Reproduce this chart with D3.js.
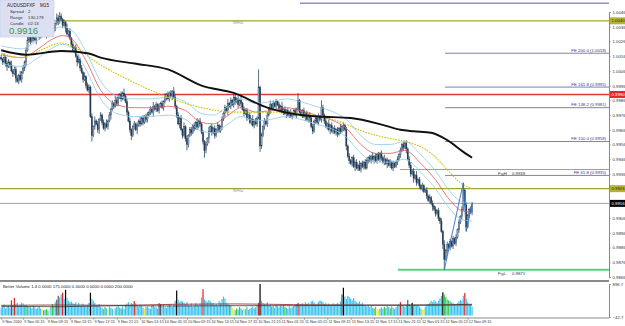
<!DOCTYPE html>
<html>
<head>
<meta charset="utf-8">
<script src="https://cdnjs.cloudflare.com/ajax/libs/d3/7.8.5/d3.min.js"></script>
<style>
body { margin: 0; background: #fff; overflow: hidden; }
svg text { font-family: "Liberation Sans", Arial, sans-serif; }
</style>
</head>
<body>
<script>
// AUDUSD M15, bar 0 = 9 Nov 2010 01:30, one bar every 15 minutes
var firstOpen = 1.0015;
var closes = [
  1.0014,1.0012,1.0015,1.0011,1.0009,1.0012,1.0010,1.0006,1.0004,1.0007,
  1.0001,0.9999,1.0003,1.0000,1.0005,1.0008,1.0012,1.0020,1.0027,1.0029,
  1.0026,1.0030,1.0028,1.0027,1.0030,1.0032,1.0029,1.0031,1.0034,1.0032,
  1.0030,1.0033,1.0031,1.0034,1.0036,1.0033,1.0035,1.0038,1.0042,1.0040,
  1.0043,1.0041,1.0037,1.0039,1.0035,1.0031,1.0033,1.0028,1.0024,1.0020,
  1.0022,1.0016,1.0012,1.0014,1.0008,1.0005,1.0000,1.0002,0.9996,0.9993,
  0.9995,0.9975,0.9962,0.9968,0.9972,0.9970,0.9966,0.9973,0.9976,0.9971,
  0.9967,0.9970,0.9968,0.9972,0.9976,0.9980,0.9984,0.9982,0.9986,0.9984,
  0.9988,0.9990,0.9987,0.9991,0.9989,0.9985,0.9978,0.9972,0.9966,0.9962,
  0.9968,0.9970,0.9966,0.9969,0.9972,0.9970,0.9974,0.9971,0.9975,0.9973,
  0.9976,0.9978,0.9980,0.9978,0.9982,0.9980,0.9983,0.9979,0.9982,0.9984,
  0.9981,0.9985,0.9988,0.9990,0.9987,0.9991,0.9989,0.9992,0.9988,0.9982,
  0.9976,0.9970,0.9974,0.9966,0.9962,0.9968,0.9960,0.9956,0.9962,0.9966,
  0.9964,0.9969,0.9967,0.9971,0.9968,0.9972,0.9970,0.9964,0.9958,0.9952,
  0.9956,0.9960,0.9965,0.9968,0.9964,0.9967,0.9962,0.9966,0.9969,0.9965,
  0.9968,0.9973,0.9977,0.9981,0.9979,0.9984,0.9982,0.9986,0.9983,0.9988,
  0.9985,0.9987,0.9983,0.9986,0.9984,0.9980,0.9977,0.9979,0.9974,0.9976,
  0.9971,0.9973,0.9969,0.9972,0.9970,0.9974,0.9995,0.9955,0.9962,0.9968,
  0.9972,0.9970,0.9976,0.9980,0.9983,0.9981,0.9984,0.9982,0.9985,0.9983,
  0.9980,0.9982,0.9978,0.9980,0.9977,0.9979,0.9976,0.9978,0.9975,0.9977,
  0.9979,0.9976,0.9980,0.9986,0.9978,0.9976,0.9979,0.9975,0.9977,0.9973,
  0.9976,0.9974,0.9968,0.9965,0.9972,0.9974,0.9971,0.9975,0.9973,0.9981,
  0.9976,0.9972,0.9968,0.9970,0.9966,0.9969,0.9965,0.9967,0.9964,0.9966,
  0.9963,0.9967,0.9965,0.9968,0.9969,0.9966,0.9955,0.9948,0.9945,0.9943,
  0.9947,0.9941,0.9944,0.9940,0.9942,0.9939,0.9943,0.9941,0.9944,0.9940,
  0.9945,0.9947,0.9945,0.9948,0.9946,0.9948,0.9945,0.9949,0.9946,0.9950,
  0.9947,0.9944,0.9946,0.9943,0.9945,0.9942,0.9944,0.9940,0.9943,0.9941,
  0.9944,0.9946,0.9949,0.9952,0.9956,0.9954,0.9957,0.9953,0.9946,0.9942,
  0.9936,0.9938,0.9933,0.9935,0.9930,0.9932,0.9928,0.9926,0.9928,0.9924,
  0.9925,0.9921,0.9918,0.9920,0.9916,0.9914,0.9912,0.9909,0.9911,0.9906,
  0.9904,0.9897,0.9888,0.9878,0.9884,0.9888,0.9886,0.9890,0.9887,0.9892,
  0.9889,0.9893,0.9898,0.9903,0.9907,0.9912,0.9925,0.9915,0.9900,0.9908,
  0.9912,0.9910,0.9916
];
// wick length past the body, in pips (base 36 digit per bar)
var wickHi = ['2131221312','2213121231','1213121221','2121312132','3212131212','1213121312',
  '2121312121','2131212132','2121312121','1212131212','2121312121','2131212132','1212131212',
  '2121312121','2131212121','1212131212','2121312121','213121c121','2121312121','2131212121',
  '1215121212','1212121215','2121312121','2131212121','1212131212','2121312121','2131212121',
  '1212121212','2121312121','1212121212','1213121212','1212125121','121'].join('');
var wickLo = ['1212312121','3121212312','2121312121','1212121213','2121312121','2131212121',
  '2141212312','1212131212','2121312123','1213121212','2121312121','1212121312','2131212421',
  '2121212125','2131212121','1212131212','2121312121','1212121421','2121312121','1212131212',
  '2121212131','2312121212','1212131212','2121313121','2131212121','1212131212','2121312121',
  '1212121312','2131212121','1212131212','2137121212','1212121131','212'].join('');

var volumes = [
  230,260,310,200,250,280,220,430,300,500, 330,360,280,310,370,340,290,300,260,240,
  250,210,280,230,190,220,260,200,170,150, 160,180,140,200,250,330,280,380,450,560,
  520,600,650,480,730,500,420,380,400,350, 330,380,300,360,280,310,340,290,260,300,
  360,650,480,420,360,300,280,330,250,220, 180,240,200,160,260,220,190,130,210,250,
  280,230,200,260,180,300,340,380,300,360, 330,410,350,290,250,300,270,220,180,240,
  260,210,190,280,300,240,220,200,350,330, 260,300,240,210,280,330,290,250,310,420,
  710,450,380,420,400,360,320,380,300,280, 340,260,300,350,320,280,340,520,750,460,
  420,380,440,400,350,360,300,330,280,410, 360,470,540,480,360,320,300,280,220,180,
  150,200,170,240,200,160,210,180,250,160, 190,220,260,200,240,300,360,896,420,350,
  330,300,380,280,310,250,270,220,300,260, 230,280,250,300,240,220,190,260,210,240,
  280,300,330,360,300,320,350,300,380,330, 360,290,400,420,370,300,340,390,430,410,
  380,330,360,300,340,290,310,350,300,330, 360,320,400,600,790,540,470,560,520,480,
  430,500,420,380,350,400,330,360,300,280, 260,300,240,280,220,200,250,180,160,200,
  230,190,250,210,270,240,200,260,220,180, 240,280,310,380,300,280,250,300,440,330,
  300,360,280,310,270,290,250,200,160,180, 250,300,330,360,420,380,440,400,360,420,
  480,560,660,600,520,460,430,400,380,350, 330,300,360,400,440,420,560,640,480,380,
  300,330,250
];
// b normal, r climax, k churn, g low churn, y low volume, d neutral
var volKinds = ['bbbbbbbrbr','bbbbbbbgbb','bbbbbbbbyg','bgbybgbbdd','bbrbkbbbbb','bbbbbbbbbb',
  'bkbbbbbbbb','bgbybbbybb','bbgbbbbbbb','brbbbbbbyb','bbbbbbbbdd','bbbbbbbbbb','kbbbbbbbbb',
  'bbbbbbbbrb','bbbbbbbbbb','bbbbbbgbyy','bgbgbbybbb','bbbbbbrkbb','bbbbbgbbbb','bbbbgbbbbb',
  'bbbrbbbbbb','bbbbbbbbbb','bbbbbbbbbb','bbbdkbbbbb','bbbbbbbbbb','bbbbbgbyyb','bbgbbbgbbb',
  'bbbrbbbbdb','bkbbbbbbyy','bbbbbbbbbb','bbkggbgbbb','bbbbbbbrbb','bbb'].join('');
var volAvgRed = [[0,290],[40,300],[80,290],[120,320],[160,330],[200,310],[240,300],[280,290],[322,320]];
var volAvgBlack = [[0,260],[40,250],[80,280],[120,270],[160,280],[200,280],[240,290],[280,300],[322,300]];

var maSlow = [[0,1.0020],[17,1.0017],[41,1.00195],[59,1.0018],[68,1.0015],[91,1.0011],[114,1.0007],
  [137,0.9996],[159,0.9991],[182,0.9981],[205,0.9976],[217,0.9975],[239,0.9974],[262,0.9969],
  [273,0.9966],[282,0.9965],[294,0.9964],[305,0.9959],[316,0.9951],[322,0.9947]];
var maDotted = [[0,1.0018],[14,1.0015],[27,1.0020],[41,1.0025],[48,1.0023],[68,1.0010],[91,0.9998],
  [114,0.9988],[137,0.9981],[159,0.9978],[182,0.9978],[205,0.9977],[227,0.9973],[250,0.9964],
  [266,0.9960],[277,0.9958],[294,0.9950],[305,0.9939],[314,0.9930],[322,0.9926]];
var maMid = [[0,1.0017],[14,1.0015],[24,1.0020],[34,1.0027],[42,1.0030],[49,1.0027],[58,1.0013],
  [68,0.9993],[79,0.9983],[91,0.9981],[102,0.9981],[114,0.9982],[126,0.9979],[137,0.9971],
  [145,0.9970],[154,0.9975],[164,0.9981],[174,0.9978],[184,0.9979],[195,0.9981],[205,0.9979],
  [215,0.9976],[225,0.9973],[236,0.9967],[246,0.9956],[256,0.9950],[266,0.9950],[276,0.9952],
  [287,0.9943],[297,0.9932],[307,0.9918],[315,0.9911],[322,0.9910]];
var envDev = 0.0006;
var zigzag = [[303,0.9871],[316,0.9930],[318,0.9897],[322,0.9916]];

var priceTicks = [1.0046,1.0036,1.0026,1.0016,1.0006,0.9996,0.9986,0.9976,0.9966,0.9956,
  0.9946,0.9936,0.9926,0.9916,0.9906,0.9896,0.9886,0.9876,0.9866];
var tickBars = [0,15,31,47,63,79,95,111,127,143,159,175,191,207,223,239,255,271,287,303,319];
var tickLabels = ['9 Nov 2010','9 Nov 05:15','9 Nov 09:15','9 Nov 13:15','9 Nov 17:15','9 Nov 21:15',
  '10 Nov 01:15','10 Nov 05:15','10 Nov 09:15','10 Nov 13:15','10 Nov 17:15','10 Nov 21:15',
  '11 Nov 01:15','11 Nov 05:15','11 Nov 09:15','11 Nov 13:15','11 Nov 17:15','11 Nov 21:15',
  '12 Nov 01:15','12 Nov 05:15','12 Nov 09:15'];

var feLevels = [1.0018, 0.9995, 0.9981, 0.9958, 0.9935];
var feNames = ['FE 200.0', 'FE 161.8', 'FE 138.2', 'FE 100.0', 'FE 61.8'];
var topLevel = 1.0052;
var maLevels = [1.0040, 0.9926];
var redLevel = 0.9990;
var fibHigh = 0.9939, fibLow = 0.9871;
var bid = 0.9916;
var volRange = [-42.7, 896.7];

var W = 625, H = 326, axisX = 609;
var svg = d3.select('body').append('svg').attr('width', W).attr('height', H);

var x = d3.scaleLinear().domain([0, 322]).range([1.2, 472.1]);
var y = d3.scaleLinear().domain([0.9866, 1.0046]).range([277, 12]);
var yv = d3.scaleLinear().domain(volRange).range([317, 284]);

svg.append('clipPath').attr('id', 'mainclip').append('rect')
   .attr('x', 0).attr('y', 0).attr('width', axisX).attr('height', 280);
var main = svg.append('g').attr('clip-path', 'url(#mainclip)');

var hline = function(p, x0, color, w) {
  main.append('line').attr('x1', x0).attr('x2', axisX)
      .attr('y1', y(p)).attr('y2', y(p))
      .attr('stroke', color).attr('stroke-width', w);
};

hline(topLevel, 300, '#5a5aa0', 1);
maLevels.forEach(function(p) { hline(p, 0, '#a4a432', 1.4); });
hline(redLevel, 0, '#e23a3a', 1.4);
hline(bid, 0, '#8a8a8a', 0.8);
feLevels.forEach(function(p) { hline(p, 445, '#6f6fb0', 0.9); });
hline(fibHigh, 400, '#e88080', 1);
hline(fibLow, 398, '#5fce7e', 2);

maLevels.forEach(function(p) {
  main.append('text').attr('x', 233).attr('y', y(p) + 3.5)
      .attr('font-size', 4.5).attr('fill', '#9a9a9a').text('MAG');
});
feLevels.forEach(function(p, i) {
  main.append('text').attr('x', 606).attr('y', y(p) - 1.2)
      .attr('text-anchor', 'end').attr('font-size', 4.3).attr('fill', '#34349a')
      .text(feNames[i] + ' (' + p.toFixed(4) + ')');
});
[[fibHigh, 'F.gH'], [fibLow, 'F.gL']].forEach(function(f) {
  main.append('text').attr('x', 498).attr('y', y(f[0]) + 5)
      .attr('font-size', 4.3).attr('fill', '#333').text(f[1]);
  main.append('text').attr('x', 512).attr('y', y(f[0]) + 5)
      .attr('font-size', 4.3).attr('fill', '#333').text(f[0].toFixed(4));
});

// candles
var bars = closes.map(function(c, i) {
  var o = i === 0 ? firstOpen : closes[i - 1];
  return { i: i, o: o, c: c,
           h: Math.max(o, c) + parseInt(wickHi[i], 36) / 1e4,
           l: Math.min(o, c) - parseInt(wickLo[i], 36) / 1e4 };
});

main.selectAll('line.wick').data(bars).enter().append('line')
    .attr('class', 'wick')
    .attr('x1', function(d) { return x(d.i); })
    .attr('x2', function(d) { return x(d.i); })
    .attr('y1', function(d) { return y(d.h); })
    .attr('y2', function(d) { return y(d.l); })
    .attr('stroke', '#2e4862').attr('stroke-width', 0.8);

main.selectAll('rect.body').data(bars).enter().append('rect')
    .attr('class', 'body')
    .attr('x', function(d) { return x(d.i) - 0.65; })
    .attr('width', 1.3)
    .attr('y', function(d) { return y(Math.max(d.o, d.c)); })
    .attr('height', function(d) { return Math.max(0.8, Math.abs(y(d.o) - y(d.c))); })
    .attr('fill', function(d) { return d.c >= d.o ? '#86a0ba' : '#213750'; })
    .attr('stroke', '#2a445f').attr('stroke-width', 0.3);

// moving averages
var curve = d3.line()
    .x(function(d) { return x(d[0]); })
    .y(function(d) { return y(d[1]); })
    .curve(d3.curveMonotoneX);

main.append('path').datum(maMid.map(function(d) { return [d[0], d[1] + envDev]; }))
    .attr('d', curve).attr('fill', 'none').attr('stroke', '#8ccbeb').attr('stroke-width', 0.8);
main.append('path').datum(maMid.map(function(d) { return [d[0], d[1] - envDev]; }))
    .attr('d', curve).attr('fill', 'none').attr('stroke', '#8ccbeb').attr('stroke-width', 0.8);
main.append('path').datum(maMid)
    .attr('d', curve).attr('fill', 'none').attr('stroke', '#e25555').attr('stroke-width', 0.8);
main.append('path').datum(maDotted)
    .attr('d', curve).attr('fill', 'none').attr('stroke', '#cfc000')
    .attr('stroke-width', 1.1).attr('stroke-dasharray', '1.6,1.2');
main.append('path').datum(maSlow)
    .attr('d', curve).attr('fill', 'none').attr('stroke', '#111').attr('stroke-width', 1.9);

main.append('path').datum(zigzag)
    .attr('d', d3.line().x(function(d) { return x(d[0]); }).y(function(d) { return y(d[1]); }))
    .attr('fill', 'none').attr('stroke', '#2a72d0').attr('stroke-width', 0.9);

// price axis
var yAxis = svg.append('g').attr('transform', 'translate(' + axisX + ',0)')
    .call(d3.axisRight(y).tickValues(priceTicks).tickFormat(d3.format('.4f')).tickSize(1.5).tickPadding(2));
yAxis.select('.domain').attr('stroke', '#888');
yAxis.selectAll('.tick line').attr('stroke', '#888');
yAxis.selectAll('text').attr('font-size', 4.3).attr('fill', '#333')
     .attr('font-family', '"Liberation Sans", Arial, sans-serif');

[[maLevels[0], '#b2b23a', '#222'], [redLevel, '#e02a2a', '#fff'],
 [maLevels[1], '#b2b23a', '#222'], [bid, '#000', '#fff']].forEach(function(t) {
  svg.append('rect').attr('x', axisX + 1).attr('y', y(t[0]) - 3.5)
     .attr('width', 15).attr('height', 7).attr('fill', t[1]);
  svg.append('text').attr('x', axisX + 2.5).attr('y', y(t[0]) + 1.6)
     .attr('font-size', 4.3).attr('fill', t[2]).text(t[0].toFixed(4));
});

// volume panel
svg.append('line').attr('x1', 0).attr('x2', axisX).attr('y1', 281).attr('y2', 281)
   .attr('stroke', '#8a8a8a').attr('stroke-width', 2);

var kindColor = { b: '#3cc4ef', r: '#e02424', k: '#000', g: '#2ecc40', y: '#eeee30', d: '#555a66' };
svg.selectAll('rect.vol').data(volumes).enter().append('rect')
   .attr('class', 'vol')
   .attr('x', function(d, i) { return x(i) - 0.6; })
   .attr('width', 1.2)
   .attr('y', function(d) { return yv(d); })
   .attr('height', function(d) { return yv(0) - yv(d); })
   .attr('fill', function(d, i) { return kindColor[volKinds[i]]; });

var vline = d3.line()
    .x(function(d) { return x(d[0]); })
    .y(function(d) { return yv(d[1]); })
    .curve(d3.curveMonotoneX);
svg.append('path').datum(volAvgRed).attr('d', vline)
   .attr('fill', 'none').attr('stroke', '#9a3a3a').attr('stroke-width', 0.9);
svg.append('path').datum(volAvgBlack).attr('d', vline)
   .attr('fill', 'none').attr('stroke', '#222').attr('stroke-width', 0.7);

svg.append('text').attr('x', 3).attr('y', 288).attr('font-size', 4.3).attr('fill', '#222')
   .text('Better Volume 1.4 0.0000 175.0000 0.0000 0.0000 0.0000 200.0000');

var vAxis = svg.append('g').attr('transform', 'translate(' + axisX + ',0)')
    .call(d3.axisRight(yv).tickValues(volRange).tickFormat(d3.format('.1f')).tickSize(1.5).tickPadding(2));
vAxis.select('.domain').attr('stroke', '#888');
vAxis.selectAll('.tick line').attr('stroke', '#888');
vAxis.selectAll('text').attr('font-size', 4.3).attr('fill', '#333')
     .attr('font-family', '"Liberation Sans", Arial, sans-serif');

// time axis
var xAxis = svg.append('g').attr('transform', 'translate(0,318)')
    .call(d3.axisBottom(x).tickValues(tickBars)
           .tickFormat(function(d, i) { return tickLabels[i]; }).tickSize(1.5).tickPadding(1));
xAxis.select('.domain').remove();
xAxis.append('line').attr('x1', 0).attr('x2', axisX).attr('stroke', '#888');
xAxis.selectAll('.tick line').attr('stroke', '#888');
xAxis.selectAll('text').attr('font-size', 3.8).attr('fill', '#333').attr('text-anchor', 'start')
     .attr('dx', 0.6).attr('font-family', '"Liberation Sans", Arial, sans-serif');

// info box
var info = svg.append('g');
info.append('rect').attr('x', 0).attr('y', 0).attr('width', 54).attr('height', 37)
    .attr('fill', '#dde0f3').attr('stroke', '#c4c8e0').attr('stroke-width', 0.5);
info.append('text').attr('x', 7).attr('y', 6.5).attr('font-size', 4.6).attr('fill', '#222').text('AUDUSDFXF');
info.append('text').attr('x', 40).attr('y', 6.5).attr('font-size', 4.6).attr('fill', '#222').text('M15');
[['Spread', '2'], ['Range', '130,178'], ['Candle', '02:13']].forEach(function(r, i) {
  info.append('text').attr('x', 10).attr('y', 13 + i * 6).attr('font-size', 4.3).attr('fill', '#333').text(r[0]);
  info.append('text').attr('x', 28).attr('y', 13 + i * 6).attr('font-size', 4.3).attr('fill', '#333').text(r[1]);
});
info.append('text').attr('x', 9).attr('y', 34).attr('font-size', 9.5).attr('fill', '#2e9a4a')
    .text(bid.toFixed(4));
</script>
</body>
</html>
